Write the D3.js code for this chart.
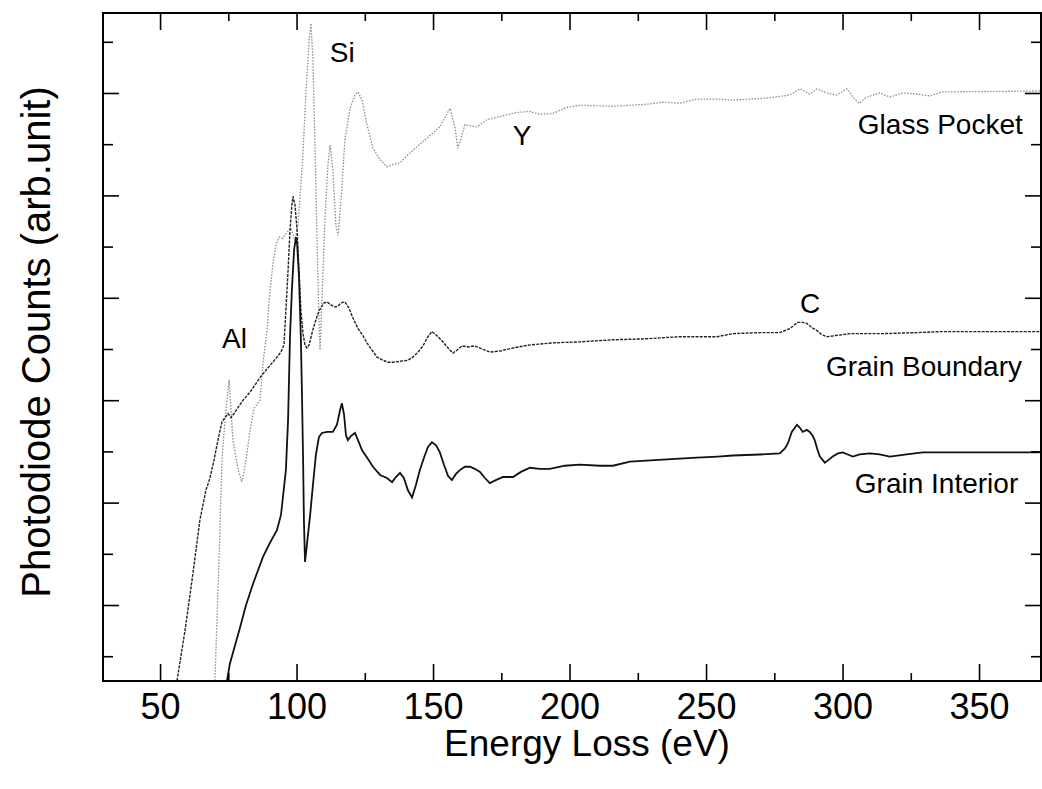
<!DOCTYPE html>
<html>
<head>
<meta charset="utf-8">
<script src="https://cdn.jsdelivr.net/npm/d3@7"></script>
<style>
    body { margin: 0; background: #fff; }
    text { font-family: "Liberation Sans", Arial, sans-serif; fill: #000; }
</style>
</head>
<body>
<div class="chartHolder"></div>
<script>
// spectra: [energy loss (eV), counts (arb.unit)]
var glassPocket = [
    [70.1,0.26],[71.6,1.44],[72.7,2.42],[73.8,2.81],[75.3,3.20],[76.7,2.61],[78.6,2.32],[80.0,2.20],
    [81.5,2.42],[83.0,2.71],[84.4,2.92],[86.6,3.00],[87.7,3.36],[89.2,3.69],[90.3,4.08],[91.4,4.34],
    [92.5,4.52],[93.6,4.59],[95.0,4.58],[96.5,4.64],[98.0,4.68],[99.4,4.56],[100.5,4.71],[101.6,5.10],
    [102.4,5.44],[103.5,6.03],[104.6,6.52],[105.3,6.68],[106.0,6.32],[106.8,5.44],[107.5,4.56],[108.2,3.78],
    [108.6,3.49],[109.3,3.98],[110.4,4.76],[111.5,5.30],[112.3,5.49],[113.3,5.25],[114.4,4.71],[115.2,4.61],
    [116.3,4.95],[117.7,5.54],[119.6,5.85],[121.4,5.98],[122.5,6.01],[124.0,5.93],[125.8,5.69],[128.0,5.46],
    [130.6,5.35],[133.1,5.28],[135.3,5.30],[137.9,5.32],[142.6,5.44],[147.8,5.56],[152.5,5.67],[156.2,5.85],
    [158.0,5.67],[159.1,5.46],[161.7,5.69],[166.1,5.67],[169.7,5.74],[174.5,5.77],[180.7,5.81],[185.5,5.82],
    [189.1,5.79],[193.9,5.80],[199.0,5.86],[203.8,5.88],[215.9,5.87],[228.3,5.89],[234.2,5.91],[240.4,5.90],
    [246.6,5.94],[255.1,5.94],[259.8,5.93],[272.3,5.95],[280.7,5.98],[284.4,6.04],[288.0,5.99],[290.6,6.04],
    [294.2,6.00],[297.9,5.98],[301.6,6.04],[303.8,5.96],[306.0,5.90],[308.9,5.96],[313.6,6.00],[317.3,5.96],
    [322.1,6.00],[327.2,5.99],[332.0,5.97],[336.3,6.01],[372.2,6.02]
];

var grainBoundary = [
    [56.2,0.26],[59.2,0.76],[61.7,1.24],[64.6,1.83],[66.8,2.12],[68.3,2.24],[69.8,2.42],[71.2,2.61],
    [72.7,2.79],[73.8,2.83],[74.9,2.87],[76.0,2.83],[77.1,2.87],[78.6,2.93],[80.4,3.00],[83.0,3.08],
    [84.8,3.15],[86.6,3.22],[88.4,3.28],[90.3,3.34],[92.5,3.41],[94.3,3.47],[95.4,3.54],[96.1,3.88],
    [96.9,4.27],[97.6,4.66],[98.3,4.91],[98.7,4.99],[99.4,4.91],[100.2,4.66],[100.9,4.27],[101.6,3.88],
    [102.4,3.64],[103.1,3.54],[103.8,3.51],[104.6,3.54],[105.7,3.66],[106.8,3.76],[107.9,3.85],[109.0,3.91],
    [110.1,3.95],[111.2,3.96],[112.6,3.93],[114.1,3.91],[115.2,3.92],[116.3,3.95],[117.7,3.96],[119.2,3.90],
    [120.7,3.80],[122.5,3.70],[124.3,3.63],[125.8,3.56],[127.6,3.49],[129.5,3.42],[131.7,3.39],[133.5,3.37],
    [135.3,3.37],[137.9,3.38],[140.8,3.39],[142.6,3.42],[144.5,3.47],[146.3,3.53],[148.1,3.62],[149.6,3.67],
    [151.4,3.63],[153.3,3.58],[155.5,3.51],[157.3,3.46],[158.8,3.49],[160.6,3.53],[162.8,3.52],[165.3,3.53],
    [167.9,3.50],[170.8,3.47],[174.5,3.48],[179.3,3.51],[185.5,3.54],[193.9,3.56],[203.8,3.57],[215.9,3.59],
    [228.3,3.60],[240.4,3.62],[254.0,3.62],[259.8,3.65],[269.7,3.66],[277.0,3.66],[280.7,3.70],[283.6,3.76],
    [285.4,3.76],[286.9,3.75],[288.7,3.71],[290.6,3.68],[292.4,3.64],[294.2,3.62],[297.2,3.63],[302.7,3.65],
    [314.7,3.65],[327.2,3.66],[336.3,3.67],[372.2,3.67]
];

var grainInterior = [
    [74.5,0.26],[75.6,0.43],[77.5,0.61],[79.3,0.78],[81.5,1.00],[84.1,1.21],[85.9,1.34],[87.7,1.47],
    [90.3,1.61],[92.8,1.73],[94.3,1.88],[95.0,2.05],[96.1,2.32],[96.9,2.81],[97.6,3.62],[98.3,4.08],
    [99.1,4.47],[99.8,4.59],[100.2,4.53],[100.9,4.20],[101.6,3.59],[102.0,3.03],[102.4,2.42],[102.7,1.83],
    [103.1,1.42],[103.8,1.59],[104.9,1.86],[106.0,2.17],[107.1,2.47],[108.2,2.64],[109.3,2.68],[111.2,2.69],
    [113.3,2.69],[114.8,2.76],[115.9,2.90],[116.6,2.97],[117.4,2.86],[118.1,2.66],[118.8,2.61],[119.9,2.65],
    [121.4,2.68],[122.5,2.61],[124.0,2.51],[125.8,2.44],[128.0,2.35],[130.6,2.27],[133.1,2.24],[135.0,2.20],
    [136.4,2.25],[137.9,2.29],[139.3,2.24],[140.8,2.12],[142.3,2.05],[143.7,2.17],[145.2,2.32],[146.7,2.44],
    [148.1,2.54],[149.6,2.59],[151.1,2.56],[152.5,2.49],[154.0,2.37],[155.5,2.26],[156.9,2.22],[158.4,2.28],
    [159.9,2.32],[161.7,2.35],[163.5,2.35],[165.3,2.33],[167.2,2.30],[169.0,2.24],[170.8,2.19],[173.0,2.22],
    [175.6,2.25],[179.3,2.25],[182.2,2.30],[185.5,2.34],[189.1,2.33],[192.8,2.33],[198.3,2.36],[203.8,2.37],
    [211.1,2.36],[215.9,2.36],[222.1,2.40],[234.2,2.42],[246.6,2.44],[254.3,2.45],[259.8,2.46],[269.7,2.47],
    [277.0,2.48],[278.9,2.53],[280.0,2.58],[281.4,2.69],[283.3,2.76],[284.4,2.73],[285.4,2.69],[286.9,2.71],
    [288.0,2.69],[289.1,2.65],[289.8,2.61],[290.9,2.51],[291.7,2.45],[293.5,2.39],[295.0,2.42],[296.4,2.45],
    [298.3,2.48],[300.1,2.49],[301.9,2.47],[303.8,2.45],[306.3,2.47],[310.0,2.48],[313.6,2.47],[317.3,2.45],
    [323.5,2.47],[329.4,2.49],[372.2,2.49]
];

var xTicks = [50, 100, 150, 200, 250, 300, 350];
var xMinorTicks = [75, 125, 175, 225, 275, 325];
var yTicks = [1, 2, 3, 4, 5, 6];
var yMinorTicks = [0.5, 1.5, 2.5, 3.5, 4.5, 5.5, 6.5];

var labels = [
    {text: "Si", e: 112.2, v: 6.30, anchor: "start"},
    {text: "Y", e: 182.6, v: 5.49, anchor: "middle"},
    {text: "Glass Pocket", e: 305.6, v: 5.60, anchor: "start"},
    {text: "Al", e: 72.7, v: 3.51, anchor: "start"},
    {text: "C", e: 284.4, v: 3.85, anchor: "start"},
    {text: "Grain Boundary", e: 293.9, v: 3.24, anchor: "start"},
    {text: "Grain Interior", e: 304.5, v: 2.09, anchor: "start"}
];

var w = 1042,
    h = 789;
var plotL = 103, plotR = 1041, plotT = 13, plotB = 681;

var svg = d3.select('.chartHolder').append('svg')
    .attr("width", w)
    .attr("height", h);

var x = d3.scaleLinear()
    .domain([29.1, 372.7])
    .range([plotL, plotR]);

var y = d3.scaleLinear()
    .domain([0.258, 6.781])
    .range([plotB, plotT]);

svg.append("clipPath")
    .attr("id", "plotClip")
    .append("rect")
    .attr("x", plotL)
    .attr("y", plotT)
    .attr("width", plotR - plotL)
    .attr("height", plotB - plotT);

var line = d3.line()
    .x(function(d) { return x(d[0]); })
    .y(function(d) { return y(d[1]); });

var plot = svg.append("g").attr("clip-path", "url(#plotClip)");

plot.append("path")
    .datum(glassPocket)
    .attr("d", line)
    .attr("fill", "none")
    .attr("stroke", "#8c8c8c")
    .attr("stroke-width", 1.3)
    .attr("stroke-dasharray", "1.5,1.5");

plot.append("path")
    .datum(grainBoundary)
    .attr("d", line)
    .attr("fill", "none")
    .attr("stroke", "#222")
    .attr("stroke-width", 1.4)
    .attr("stroke-dasharray", "3,1.2");

plot.append("path")
    .datum(grainInterior)
    .attr("d", line)
    .attr("fill", "none")
    .attr("stroke", "#111")
    .attr("stroke-width", 1.8);

// frame with inward ticks on all four sides
var majorLen = 17, minorLen = 8;

svg.append("g")
    .attr("transform", "translate(0," + plotB + ")")
    .call(d3.axisBottom(x).tickValues(xMinorTicks).tickSize(-minorLen).tickFormat(""))
    .call(function(g) { g.select(".domain").remove(); });

svg.append("g")
    .attr("class", "axis axis--x")
    .attr("transform", "translate(0," + plotB + ")")
    .call(d3.axisBottom(x).tickValues(xTicks).tickSizeInner(-majorLen).tickSizeOuter(0).tickPadding(12))
    .call(function(g) {
        g.select(".domain").remove();
        g.selectAll("text").style("font-size", "36px");
    });

svg.append("g")
    .attr("transform", "translate(0," + plotT + ")")
    .call(d3.axisTop(x).tickValues(xMinorTicks).tickSize(-minorLen).tickFormat(""))
    .call(function(g) { g.select(".domain").remove(); });

svg.append("g")
    .attr("transform", "translate(0," + plotT + ")")
    .call(d3.axisTop(x).tickValues(xTicks).tickSize(-majorLen).tickFormat(""))
    .call(function(g) { g.select(".domain").remove(); });

[[d3.axisLeft, plotL], [d3.axisRight, plotR]].forEach(function(a) {
    svg.append("g")
        .attr("transform", "translate(" + a[1] + ",0)")
        .call(a[0](y).tickValues(yMinorTicks).tickSize(-10).tickFormat(""))
        .call(function(g) { g.select(".domain").remove(); });
    svg.append("g")
        .attr("transform", "translate(" + a[1] + ",0)")
        .call(a[0](y).tickValues(yTicks).tickSize(-16).tickFormat(""))
        .call(function(g) { g.select(".domain").remove(); });
});

svg.selectAll(".tick line")
    .attr("stroke", "#000")
    .attr("stroke-width", 1.6);

svg.append("rect")
    .attr("x", plotL)
    .attr("y", plotT)
    .attr("width", plotR - plotL)
    .attr("height", plotB - plotT)
    .attr("fill", "none")
    .attr("stroke", "#000")
    .attr("stroke-width", 2);

// peak and curve labels
svg.selectAll(".curveLabel")
    .data(labels)
    .enter().append("text")
    .attr("class", "curveLabel")
    .attr("x", function(d) { return x(d.e); })
    .attr("y", function(d) { return y(d.v); })
    .style("text-anchor", function(d) { return d.anchor; })
    .style("font-size", "28px")
    .text(function(d) { return d.text; });

svg.append("text")
    .attr("x", 587)
    .attr("y", 756)
    .style("text-anchor", "middle")
    .style("font-size", "37px")
    .text("Energy Loss (eV)");

svg.append("text")
    .attr("transform", "rotate(-90)")
    .attr("x", -342)
    .attr("y", 50)
    .style("text-anchor", "middle")
    .style("font-size", "40px")
    .text("Photodiode Counts (arb.unit)");
</script>
</body>
</html>
